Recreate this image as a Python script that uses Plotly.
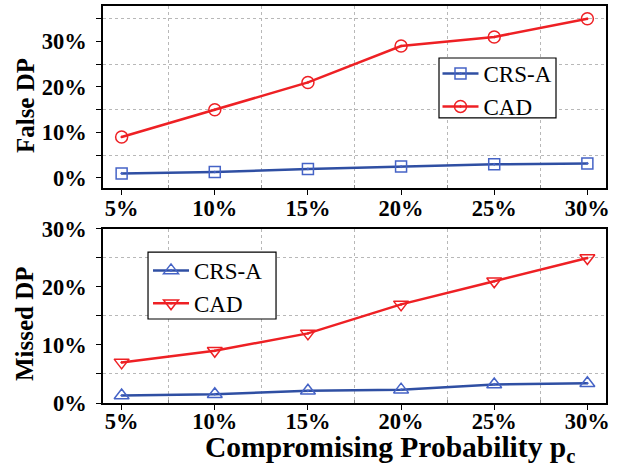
import plotly.graph_objects as go

x_pct = [5, 10, 15, 20, 25, 30]
x_labels = ["5%", "10%", "15%", "20%", "25%", "30%"]
false_crsa = [1.0, 1.3, 2.0, 2.5, 3.0, 3.2]
false_cad = [9.0, 15.0, 21.0, 29.0, 31.0, 35.0]
missed_crsa = [1.3, 1.5, 2.1, 2.3, 3.2, 3.4]
missed_cad = [7.0, 9.0, 12.0, 17.0, 21.0, 25.0]

BLUE = "#2f4fa3"
BLUE_M = "#4563c6"
RED = "#ee2024"
FONT = "Liberation Serif"

fig = go.Figure()
fig.add_trace(go.Scatter(x=x_pct, y=false_crsa, name="CRS-A", mode="lines+markers",
                         line=dict(color=BLUE, width=2.5),
                         marker=dict(symbol="square-open-dot", size=11, color=BLUE_M, line=dict(width=1.5)),
                         xaxis="x", yaxis="y", legend="legend"))
fig.add_trace(go.Scatter(x=x_pct, y=false_cad, name="CAD", mode="lines+markers",
                         line=dict(color=RED, width=2.5),
                         marker=dict(symbol="circle-open-dot", size=12, color=RED, line=dict(width=1.5)),
                         xaxis="x", yaxis="y", legend="legend"))
fig.add_trace(go.Scatter(x=x_pct, y=missed_crsa, name="CRS-A", mode="lines+markers",
                         line=dict(color=BLUE, width=2.5),
                         marker=dict(symbol="triangle-up-open-dot", size=13, color=BLUE_M, line=dict(width=1.5)),
                         xaxis="x2", yaxis="y2", legend="legend2"))
fig.add_trace(go.Scatter(x=x_pct, y=missed_cad, name="CAD", mode="lines+markers",
                         line=dict(color=RED, width=2.5),
                         marker=dict(symbol="triangle-down-open-dot", size=13, color=RED, line=dict(width=1.5)),
                         xaxis="x2", yaxis="y2", legend="legend2"))

tickfont = dict(family=FONT, size=22.5, color="black", weight="bold")
XR = [4, 31]
TOP_YR = [-2.2, 37.8]
BOT_YR = [0, 30]
TOP_DOM = [0.5416, 1.0]
BOT_DOM = [0, 0.4383]


def xax(anchor, standoff):
    return dict(range=XR, tickvals=x_pct, ticktext=x_labels, ticks="outside", ticklen=5,
                tickwidth=1.2, tickcolor="black", showline=True, linecolor="black", linewidth=1.5,
                mirror=True, showgrid=False, zeroline=False, tickfont=tickfont, anchor=anchor,
                domain=[0, 1], automargin=False, ticklabelstandoff=standoff,
                minor=dict(tick0=7.5, dtick=5, ticks="inside", ticklen=3, tickcolor="#888888",
                           showgrid=True, gridcolor="#b8b8b8", griddash="dot", gridwidth=1))


def yax(anchor, rng, dom):
    return dict(range=rng, tickvals=[0, 10, 20, 30], ticktext=["0%", "10%", "20%", "30%"],
                ticks="outside", ticklen=5, tickwidth=1.2, tickcolor="black",
                showline=True, linecolor="black", linewidth=1.5, mirror=True,
                showgrid=False, zeroline=False, tickfont=tickfont, anchor=anchor, domain=dom,
                automargin=False, ticklabelstandoff=5,
                minor=dict(tick0=5, dtick=10, ticks="outside", ticklen=5, tickcolor="black",
                           showgrid=True, gridcolor="#b8b8b8", griddash="dot", gridwidth=1))


def top_ax(overlay, anchor):
    return dict(range=XR, overlaying=overlay, anchor=anchor, side="top", tick0=5, dtick=2.5,
                ticks="inside", ticklen=6, tickwidth=1.2, tickcolor="black",
                showticklabels=False, showgrid=False, zeroline=False, showline=False,
                automargin=False)


def right_ax(overlay, anchor, rng):
    return dict(range=rng, overlaying=overlay, anchor=anchor, side="right", tick0=0, dtick=5,
                ticks="inside", ticklen=6, tickwidth=1.2, tickcolor="black",
                showticklabels=False, showgrid=False, zeroline=False, showline=False,
                automargin=False)


legfont = dict(family=FONT, size=23, color="black")
fig.update_layout(
    width=630, height=470,
    margin=dict(l=103, r=24, t=6, b=67),
    paper_bgcolor="white", plot_bgcolor="white",
    xaxis=xax("y", -6),
    yaxis=yax("x", TOP_YR, TOP_DOM),
    xaxis2=xax("y2", -8),
    yaxis2=yax("x2", BOT_YR, BOT_DOM),
    xaxis3=top_ax("x", "y"),
    yaxis3=right_ax("y", "x", TOP_YR),
    xaxis4=top_ax("x2", "y2"),
    yaxis4=right_ax("y2", "x2", BOT_YR),
    legend=dict(x=0.665, y=0.884, xanchor="left", yanchor="top", bgcolor="rgba(0,0,0,0)",
                borderwidth=0, font=legfont, tracegroupgap=0, itemwidth=36),
    legend2=dict(x=0.0895, y=0.388, xanchor="left", yanchor="top", bgcolor="rgba(0,0,0,0)",
                 borderwidth=0, font=legfont, tracegroupgap=0, itemwidth=36),
    shapes=[
        dict(type="rect", xref="paper", yref="paper", x0=0.668, x1=0.9006, y0=0.718, y1=0.869,
             line=dict(color="black", width=1.2), fillcolor="white", layer="above"),
        dict(type="rect", xref="paper", yref="paper", x0=0.0895, x1=0.344, y0=0.2116, y1=0.380,
             line=dict(color="black", width=1.2), fillcolor="white", layer="above"),
    ],
    annotations=[
        dict(text="Compromising Probability p<sub>c</sub>", xref="paper", yref="paper",
             x=0.571, y=-0.117, xanchor="center", yanchor="middle", showarrow=False,
             font=dict(family=FONT, size=29.5, color="black", weight="bold")),
        dict(text="False DP", xref="paper", yref="paper", textangle=-90,
             x=-0.155, y=0.748, xanchor="center", yanchor="middle", showarrow=False,
             font=dict(family=FONT, size=25, color="black", weight="bold")),
        dict(text="Missed DP", xref="paper", yref="paper", textangle=-90,
             x=-0.155, y=0.199, xanchor="center", yanchor="middle", showarrow=False,
             font=dict(family=FONT, size=25, color="black", weight="bold")),
    ],
)

fig.write_html("out.html", config={"displayModeBar": False},
               post_script="document.body.style.margin='0';document.body.style.overflow='hidden';")
